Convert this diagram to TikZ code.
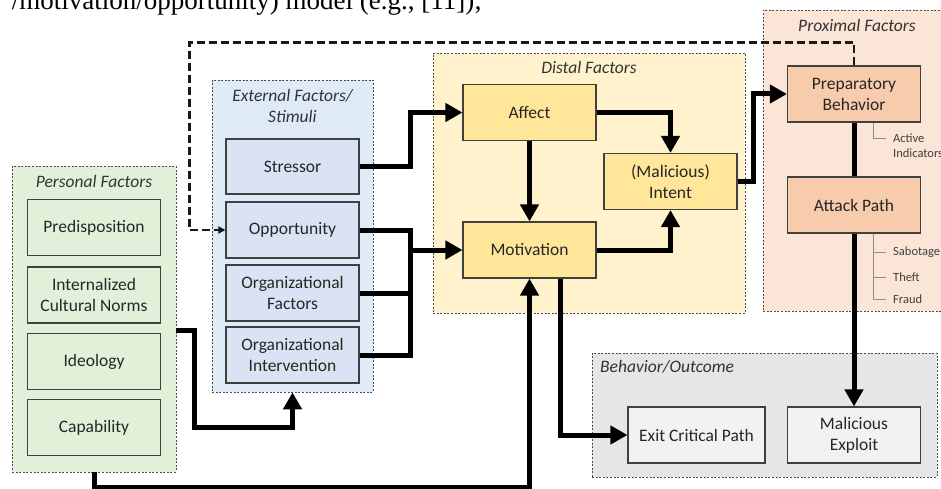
\documentclass[tikz,border=0pt]{standalone}
\usepackage{fontspec}
\setmainfont{Carlito}
\newfontfamily\papfont{Liberation Serif}
\usepackage{tikz}
\usetikzlibrary{arrows.meta}

\definecolor{persfill}{HTML}{E2F0D9}
\definecolor{extfill}{HTML}{DEEBF7}
\definecolor{extbox}{HTML}{DAE3F3}
\definecolor{distfill}{HTML}{FFF2CC}
\definecolor{distbox}{HTML}{FFE699}
\definecolor{proxfill}{HTML}{FBE5D6}
\definecolor{proxbox}{HTML}{F8CBAD}
\definecolor{outfill}{HTML}{E7E6E6}
\definecolor{outbox}{HTML}{F2F2F2}
\definecolor{edge}{HTML}{404040}

\tikzset{
  grp/.style = {draw = black!70, line width = 0.6pt, dash pattern = on 2pt off 1.6pt, inner sep = 0pt},
  box/.style = {draw = edge, line width = 1.1pt, minimum width = 133pt, minimum height = 56pt, inner sep = 0pt, align = center, text = black!85, font = \fontsize{17.5}{21}\selectfont},
  head/.style = {text = black!80, font = \fontsize{17.5}{21}\selectfont\itshape, align = center, inner sep = 0pt},
  flow/.style = {line width = 5pt, line join = miter, -{Triangle[length = 17pt, width = 18pt]}},
  wire/.style = {line width = 5pt, line join = miter},
  back/.style = {draw = black!90, line width = 2.2pt, dash pattern = on 8pt off 4pt, -{Triangle[length = 7pt, width = 7pt]}},
  tick/.style = {draw = black!45, line width = 0.7pt},
  tag/.style = {text = black!75, font = \fontsize{12.5}{15.5}\selectfont, inner sep = 0pt, anchor = west, align = left}
}

\begin{document}
\begin{tikzpicture}[x = 1pt, y = -1pt]
\useasboundingbox (0, 0) rectangle (941, 489);
%\draw[very thin, color = gray](0, 0) grid[step = 50] (941, 489);
% caption line, cut off at the top
\node (caption) at (482, 10) [anchor = base east, inner sep = 0pt, font = \papfont\fontsize{27}{30}\selectfont] {/motivation/opportunity) model (e.g., [11]);};

% groups
\node (personal) at (94, 319) [grp, fill = persfill, minimum width = 164pt, minimum height = 306pt] {};
\node (external) at (292.5, 236) [grp, fill = extfill, minimum width = 161pt, minimum height = 312pt] {};
\node (distal) at (589, 183) [grp, fill = distfill, minimum width = 312pt, minimum height = 260pt] {};
\node (proximal) at (858, 160.5) [grp, fill = proxfill, minimum width = 190pt, minimum height = 301pt] {};
\node (outcome) at (764.5, 415) [grp, fill = outfill, minimum width = 345pt, minimum height = 124pt] {};

\node (perstitle) at (94, 181) [head] {Personal Factors};
\node (exttitle) at (292.5, 106) [head] {External Factors/\\Stimuli};
\node (disttitle) at (589, 67) [head] {Distal Factors};
\node (proxtitle) at (857, 25) [head] {Proximal Factors};
\node (outtitle) at (600, 367) [head, anchor = west] {Behavior/Outcome};

% boxes
\node (predisp) at (94, 227.5) [box, fill = persfill] {Predisposition};
\node (norms) at (94, 295) [box, fill = persfill] {Internalized\\Cultural Norms};
\node (ideology) at (94, 361.5) [box, fill = persfill] {Ideology};
\node (capab) at (94, 427.5) [box, fill = persfill] {Capability};

\node (stressor) at (292.5, 166.5) [box, fill = extbox, minimum height = 55pt] {Stressor};
\node (opport) at (292.5, 230) [box, fill = extbox] {Opportunity};
\node (orgfac) at (292.5, 293) [box, fill = extbox] {Organizational\\Factors};
\node (orgint) at (292.5, 355) [box, fill = extbox] {Organizational\\Intervention};

\node (affect) at (529.5, 112.5) [box, fill = distbox] {Affect};
\node (motiv) at (529.5, 250) [box, fill = distbox] {Motivation};
\node (intent) at (670.5, 181.5) [box, fill = distbox] {(Malicious)\\Intent};

\node (prep) at (854, 94) [box, fill = proxbox] {Preparatory\\Behavior};
\node (attack) at (854, 205) [box, fill = proxbox] {Attack Path};

\node (exit) at (696.5, 435) [box, fill = outbox, minimum width = 137pt] {Exit Critical Path};
\node (exploit) at (854, 435) [box, fill = outbox] {Malicious\\Exploit};

% side notes
\draw[tick] ([xshift = 19pt]prep.south) |- ++(13, 16) coordinate (actend);
\node (active) at ([xshift = 7pt, yshift = 5pt]actend) [tag, anchor = north west] {Active\\Indicators};
\draw[tick] ([xshift = 19pt]attack.south) |- ++(13, 66) coordinate (frend);
\draw[tick] ([xshift = 19pt, yshift = -19pt]attack.south) -- ++(13, 0) coordinate (sabend);
\draw[tick] ([xshift = 19pt, yshift = -44pt]attack.south) -- ++(13, 0) coordinate (thend);
\node (sab) at ([xshift = 7pt]sabend) [tag] {Sabotage};
\node (theft) at ([xshift = 7pt]thend) [tag] {Theft};
\node (fraud) at ([xshift = 7pt]frend) [tag] {Fraud};

% connectors
\draw[back] (prep.north) -- ++(0, -23) -| ([xshift = -36pt]opport.west) -- (opport.west);
\draw[flow] (stressor.east) -- ++(51, 0) |- (affect.west);
\draw[wire] (opport.east) -- ++(51, 0) coordinate (oppjoin) |- (orgint.east);
\draw[wire] (orgfac.east) -- (orgfac.east -| oppjoin);
\draw[flow] (oppjoin |- motiv.west) -- (motiv.west);
\draw[flow] (affect.south) -- (motiv.north);
\draw[flow] (affect.east) -| (intent.north);
\draw[flow] (motiv.east) -| (intent.south);
\draw[flow] (intent.east) -- ++(16, 0) |- (prep.west);
\draw[wire] (prep.south) -- (attack.north);
\draw[flow] (attack.south) -- (exploit.north);
\draw[flow] ([xshift = 31pt]motiv.south) |- (exit.west);
\draw[flow] (personal.south) -- ++(0, 15) -| (motiv.south);
\draw[flow] ([yshift = -11pt]personal.east) -- ++(18, 0) -- ++(0, 97) -| (external.south);
\end{tikzpicture}
\end{document}
